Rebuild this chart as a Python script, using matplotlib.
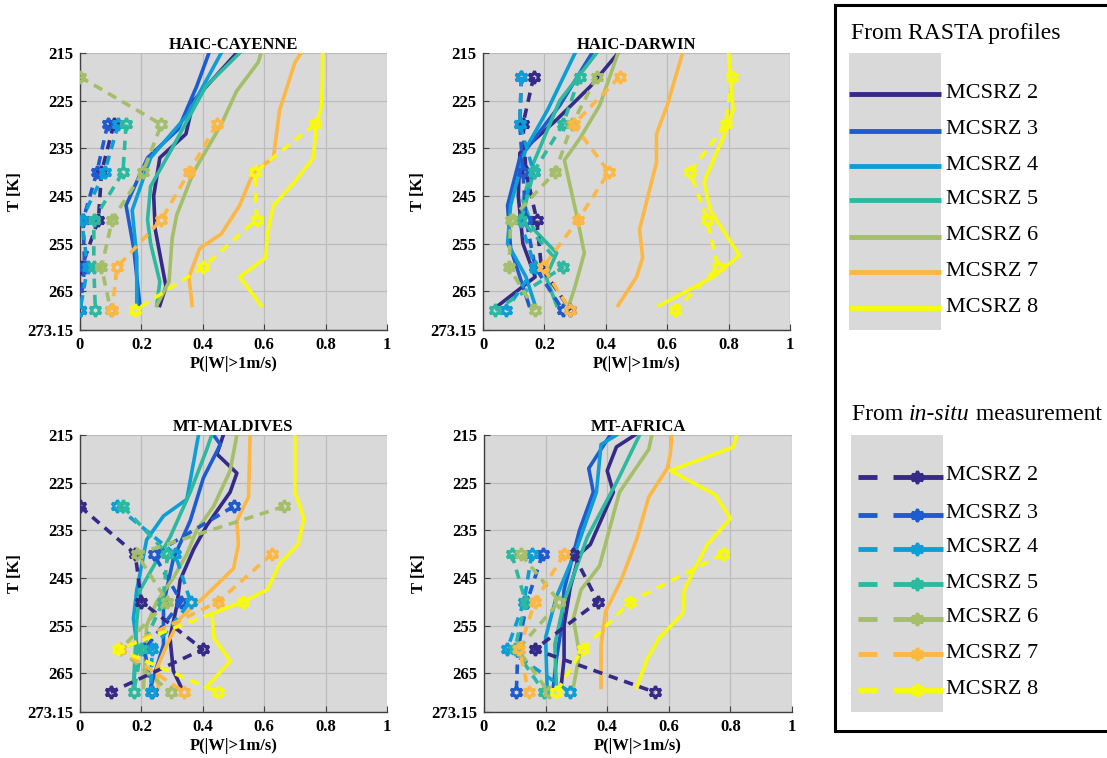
import numpy as np
import matplotlib
matplotlib.use("Agg")
import matplotlib.pyplot as plt
from matplotlib.patches import Rectangle

plt.rcParams['font.family'] = ['Liberation Serif', 'DejaVu Serif']

# ---------------- data ----------------
zones = ['MCSRZ 2', 'MCSRZ 3', 'MCSRZ 4', 'MCSRZ 5', 'MCSRZ 6', 'MCSRZ 7', 'MCSRZ 8']
colores = ['#352a87', '#1f5bd0', '#0d9ed6', '#2db9a0', '#a5be6a', '#fdb743', '#f8fa0d']
titulos = ['HAIC-CAYENNE', 'HAIC-DARWIN', 'MT-MALDIVES', 'MT-AFRICA']

# in-situ temperature levels [K]
insitu_T = [220, 230, 240, 250, 260, 269]
nan = np.nan

# RASTA profiles, one (T, P) pair per MCSRZ
cayenne_T = [[215, 225, 232, 237, 245, 252, 264, 268],
             [215, 222, 231, 237, 247, 256, 268],
             [215, 228, 237, 248, 258, 268],
             [215, 222, 235, 243, 250, 255, 263, 268],
             [215, 217, 223, 230, 240, 249, 254, 263, 268],
             [215, 217, 227, 237, 240, 247, 253, 256, 262, 268],
             [215, 220, 226, 230, 237, 242, 247, 253, 258, 262, 268]]
cayenne_P = [[0.51, 0.37, 0.345, 0.26, 0.24, 0.245, 0.28, 0.26],
             [0.42, 0.38, 0.32, 0.22, 0.15, 0.175, 0.195],
             [0.46, 0.35, 0.23, 0.17, 0.185, 0.185],
             [0.52, 0.41, 0.30, 0.23, 0.22, 0.23, 0.26, 0.25],
             [0.59, 0.58, 0.51, 0.46, 0.37, 0.315, 0.30, 0.29, 0.25],
             [0.72, 0.70, 0.65, 0.63, 0.565, 0.52, 0.46, 0.39, 0.355, 0.365],
             [0.79, 0.79, 0.787, 0.77, 0.76, 0.70, 0.63, 0.61, 0.605, 0.52, 0.59]]

darwin_T = [[215, 222, 229, 236, 245, 255, 262, 268],
            [215, 226, 237, 247, 256, 262, 268],
            [215, 227, 235, 247, 255, 262, 268],
            [215, 225, 238, 246, 252, 257, 262, 268],
            [215, 226, 233, 237.5, 249, 257, 264, 268],
            [215, 226, 232, 238, 252, 258, 262, 268],
            [215, 220, 227, 233, 242, 248, 257.5, 262, 268]]
darwin_P = [[0.44, 0.35, 0.24, 0.12, 0.115, 0.13, 0.17, 0.05],
            [0.355, 0.25, 0.12, 0.08, 0.09, 0.12, 0.15],
            [0.30, 0.21, 0.14, 0.09, 0.08, 0.14, 0.17],
            [0.37, 0.25, 0.165, 0.13, 0.165, 0.24, 0.205, 0.24],
            [0.44, 0.38, 0.315, 0.265, 0.305, 0.33, 0.30, 0.28],
            [0.65, 0.60, 0.565, 0.565, 0.51, 0.52, 0.50, 0.44],
            [0.80, 0.805, 0.815, 0.78, 0.72, 0.74, 0.835, 0.75, 0.575]]

maldives_T = [[215, 219, 223, 227, 234, 239, 245.5, 251, 257.5, 264.5, 268],
              [215, 217, 224, 233, 241, 250.5, 259, 268],
              [215, 228.5, 232, 237, 247.5, 253.5, 259, 268],
              [215, 218, 227, 236.5, 247.5, 254, 268],
              [215, 222.5, 230, 235, 240, 245, 250, 255, 268],
              [215, 228, 233, 238, 243, 248.5, 253.5, 259, 264, 268],
              [215, 227, 232.5, 238, 242, 247.5, 250, 252.5, 257.5, 262.5, 268]]
maldives_P = [[0.467, 0.446, 0.511, 0.489, 0.413, 0.37, 0.326, 0.315, 0.293, 0.304, 0.33],
              [0.435, 0.457, 0.402, 0.359, 0.304, 0.272, 0.272, 0.23],
              [0.386, 0.348, 0.272, 0.217, 0.185, 0.174, 0.185, 0.174],
              [0.429, 0.413, 0.359, 0.293, 0.196, 0.185, 0.174],
              [0.511, 0.489, 0.435, 0.38, 0.348, 0.304, 0.25, 0.217, 0.207],
              [0.554, 0.549, 0.511, 0.516, 0.50, 0.413, 0.326, 0.283, 0.25, 0.255],
              [0.70, 0.70, 0.73, 0.71, 0.65, 0.61, 0.53, 0.43, 0.435, 0.49, 0.41]]

africa_T = [[215, 217.5, 222.5, 227, 238, 240, 247, 255, 262, 268],
            [215, 222, 227, 235, 247.5, 256, 262, 268],
            [215, 217, 227, 239, 249, 257.5, 268],
            [215, 225, 236.5, 250, 259, 268],
            [215, 218, 227, 242.5, 247.5, 253.5, 261, 268],
            [215, 219, 222, 228, 237, 245.5, 252, 259, 268],
            [215, 217.5, 222.5, 227.5, 232.5, 238, 243.5, 247.5, 252.5, 257.5, 262, 268]]
africa_P = [[0.49, 0.43, 0.40, 0.42, 0.345, 0.31, 0.28, 0.26, 0.26, 0.25],
            [0.41, 0.34, 0.355, 0.31, 0.26, 0.25, 0.235, 0.225],
            [0.43, 0.38, 0.365, 0.30, 0.235, 0.20, 0.205],
            [0.505, 0.43, 0.335, 0.26, 0.23, 0.235],
            [0.545, 0.535, 0.44, 0.375, 0.315, 0.29, 0.31, 0.29],
            [0.61, 0.605, 0.595, 0.535, 0.495, 0.445, 0.395, 0.38, 0.38],
            [0.82, 0.81, 0.605, 0.75, 0.80, 0.725, 0.68, 0.65, 0.645, 0.57, 0.53, 0.495]]

# in-situ measurements at insitu_T, one row per MCSRZ
cayenne_insitu = [[nan, 0.11, 0.07, 0.06, 0.005, 0.0],
                  [nan, 0.09, 0.055, 0.01, 0.015, 0.0],
                  [nan, 0.125, 0.08, 0.005, 0.025, 0.0],
                  [nan, 0.15, 0.14, 0.045, 0.045, 0.05],
                  [0.0, 0.265, 0.205, 0.105, 0.07, 0.10],
                  [nan, 0.445, 0.355, 0.265, 0.12, 0.105],
                  [nan, 0.765, 0.57, 0.575, 0.40, 0.18]]
darwin_insitu = [[0.165, 0.13, 0.14, 0.175, 0.19, 0.285],
                 [0.125, 0.12, 0.13, 0.14, 0.17, 0.26],
                 [0.125, 0.12, 0.165, 0.12, 0.17, 0.075],
                 [0.315, 0.26, 0.165, 0.125, 0.26, 0.04],
                 [0.37, 0.29, 0.235, 0.09, 0.085, 0.17],
                 [0.445, 0.295, 0.41, 0.31, 0.195, 0.285],
                 [0.81, 0.79, 0.675, 0.73, 0.765, 0.625]]
maldives_insitu = [[nan, 0.0, 0.18, 0.20, 0.40, 0.10],
                   [nan, 0.50, 0.24, 0.33, 0.21, 0.235],
                   [nan, 0.12, 0.31, 0.36, 0.235, 0.23],
                   [nan, 0.14, 0.285, 0.27, 0.20, 0.175],
                   [nan, 0.665, 0.185, 0.285, 0.13, 0.295],
                   [nan, nan, 0.625, 0.45, 0.13, 0.34],
                   [nan, nan, nan, 0.53, 0.125, 0.45]]
africa_insitu = [[nan, nan, 0.29, 0.37, 0.165, 0.555],
                 [nan, nan, 0.19, 0.14, 0.11, 0.105],
                 [nan, nan, 0.155, 0.13, 0.075, 0.28],
                 [nan, nan, 0.09, 0.135, 0.10, 0.195],
                 [nan, nan, 0.12, 0.245, 0.11, 0.21],
                 [nan, nan, 0.26, 0.165, 0.115, 0.145],
                 [nan, nan, 0.775, 0.475, 0.32, 0.235]]

yticks = [215, 225, 235, 245, 255, 265, 273.15]
yticklabels = ['215', '225', '235', '245', '255', '265', '273.15']
xticks = [0, 0.2, 0.4, 0.6, 0.8, 1]
xticklabels = ['0', '0.2', '0.4', '0.6', '0.8', '1']

perfiles_T = [cayenne_T, darwin_T, maldives_T, africa_T]
perfiles_P = [cayenne_P, darwin_P, maldives_P, africa_P]
medidas = [cayenne_insitu, darwin_insitu, maldives_insitu, africa_insitu]

# ---------------- figure ----------------
W, H = 1107, 758
fig = plt.figure(figsize=(W / 100, H / 100), dpi=100)

def ejes_px(l, t, r, b):
    return fig.add_axes([l / W, 1 - b / H, (r - l) / W, (b - t) / H])

cajas = [(80, 53, 387, 330), (483, 53, 790, 330), (80, 435, 387, 712), (484, 435, 792, 712)]
estrella = (6, 1, 0)
fuente = dict(family=['Liberation Serif', 'DejaVu Serif'], weight='bold')

for k in range(4):
    ax = ejes_px(*cajas[k])
    ax.set_facecolor('#d9d9d9')
    for i in range(7):
        ax.plot(perfiles_P[k][i], perfiles_T[k][i], color=colores[i], lw=2.6,
                solid_joinstyle='round', zorder=3)
    for i in range(7):
        ax.plot(medidas[k][i], insitu_T, color=colores[i], lw=2.6,
                linestyle=(0, (2.6, 1.9)), marker=estrella, markersize=9,
                markerfacecolor='none', markeredgecolor=colores[i],
                markeredgewidth=2.2, zorder=4)
    ax.set_xlim(0, 1)
    ax.set_ylim(273.15, 215)
    ax.set_xticks(xticks)
    ax.set_xticklabels(xticklabels, **fuente, fontsize=12)
    ax.set_yticks(yticks)
    ax.set_yticklabels(yticklabels, **fuente, fontsize=12)
    ax.tick_params(direction='in', length=4, color='#404040', pad=5)
    ax.grid(True, color='#bcbcbc', lw=0.9)
    ax.set_axisbelow(True)
    for s in ['top', 'right']:
        ax.spines[s].set_visible(False)
    for s in ['left', 'bottom']:
        ax.spines[s].set_color('#404040')
        ax.spines[s].set_linewidth(1.0)
    ax.set_title(titulos[k], **fuente, fontsize=12, pad=3)
    ax.set_xlabel('P(|W|>1m/s)', **fuente, fontsize=12, labelpad=2)
    ax.set_ylabel('T [K]', **fuente, fontsize=12, labelpad=3)

# ---------------- legend ----------------
lg = fig.add_axes([0, 0, 1, 1], zorder=10)
lg.set_xlim(0, W)
lg.set_ylim(H, 0)
lg.axis('off')
lg.add_patch(Rectangle((835, 5), 300, 726, facecolor='white', edgecolor='black', lw=2.2))
lg.add_patch(Rectangle((849, 53), 92, 277, facecolor='#d9d9d9', edgecolor='none'))
lg.add_patch(Rectangle((851, 435), 92, 277, facecolor='#d9d9d9', edgecolor='none'))

txt = dict(family=['Liberation Serif', 'DejaVu Serif'], fontsize=16, va='center', ha='left')
cab = dict(txt, fontsize=17)
lg.text(851, 33, 'From RASTA profiles', **cab)

t1 = lg.text(852, 415, 'From ', **cab)
fig.canvas.draw()
rend = fig.canvas.get_renderer()
inv = lg.transData.inverted()
x1 = inv.transform((t1.get_window_extent(rend).x1, 0))[0]
t2 = lg.text(x1, 415, 'in-situ', style='italic', **cab)
x2 = inv.transform((t2.get_window_extent(rend).x1, 0))[0]
lg.text(x2, 415, ' measurement', **cab)

y_rasta = [94, 131, 166, 200, 237, 272, 308]
y_insitu = [477, 515, 549, 584, 619, 654, 690]
for i in range(7):
    lg.plot([849, 941], [y_rasta[i], y_rasta[i]], color=colores[i], lw=3.5, solid_capstyle='butt')
    lg.text(946, y_rasta[i] - 1, zones[i], **txt)
    lg.plot([858, 877], [y_insitu[i], y_insitu[i]], color=colores[i], lw=3.5, solid_capstyle='butt')
    lg.plot([893, 943], [y_insitu[i], y_insitu[i]], color=colores[i], lw=3.5, solid_capstyle='butt')
    lg.plot([917], [y_insitu[i]], marker=estrella, markersize=9, markerfacecolor='none',
            markeredgecolor=colores[i], markeredgewidth=2.2, color=colores[i])
    lg.text(946, y_insitu[i] - 1, zones[i], **txt)

fig.savefig('out.png', dpi=100)
